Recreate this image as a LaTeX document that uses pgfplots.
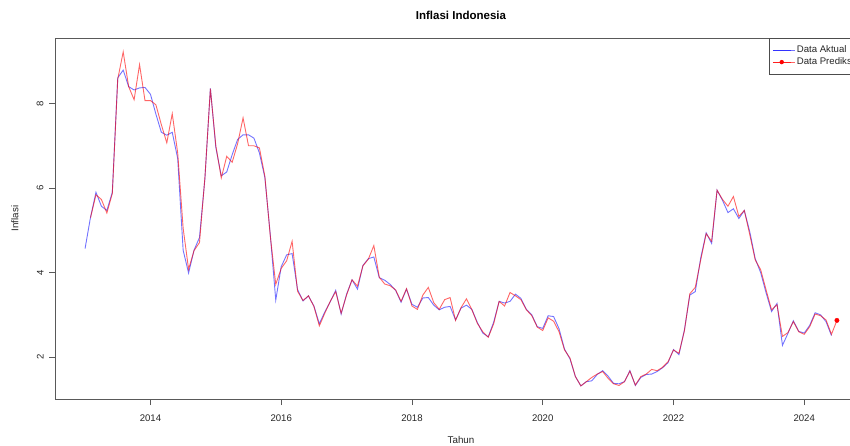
\documentclass[border=0pt]{standalone}
\usepackage{fontspec}
\setmainfont{Liberation Sans}
\usepackage{pgfplots}
\usepackage{pgfplotstable}
\pgfplotsset{compat=1.18}

% Data Aktual: month index t (0 = Jan 2013)
\pgfplotstableread{
t v
0 4.57
1 5.31
2 5.90
3 5.57
4 5.47
5 5.90
6 8.61
7 8.79
8 8.40
9 8.32
10 8.37
11 8.38
12 8.22
13 7.75
14 7.32
15 7.25
16 7.32
17 6.70
18 4.53
19 3.99
20 4.53
21 4.83
22 6.23
23 8.36
24 6.96
25 6.29
26 6.38
27 6.79
28 7.15
29 7.26
30 7.26
31 7.18
32 6.83
33 6.25
34 4.89
35 3.35
36 4.14
37 4.42
38 4.45
39 3.60
40 3.33
41 3.45
42 3.21
43 2.79
44 3.07
45 3.31
46 3.58
47 3.02
48 3.49
49 3.83
50 3.61
51 4.17
52 4.33
53 4.37
54 3.88
55 3.82
56 3.72
57 3.58
58 3.30
59 3.61
60 3.25
61 3.18
62 3.40
63 3.41
64 3.23
65 3.12
66 3.18
67 3.20
68 2.88
69 3.16
70 3.23
71 3.13
72 2.82
73 2.57
74 2.48
75 2.83
76 3.32
77 3.28
78 3.32
79 3.49
80 3.39
81 3.13
82 3.00
83 2.72
84 2.68
85 2.98
86 2.96
87 2.67
88 2.19
89 1.96
90 1.54
91 1.32
92 1.42
93 1.44
94 1.59
95 1.68
96 1.55
97 1.38
98 1.37
99 1.42
100 1.68
101 1.33
102 1.52
103 1.59
104 1.60
105 1.66
106 1.75
107 1.87
108 2.18
109 2.06
110 2.64
111 3.47
112 3.55
113 4.35
114 4.94
115 4.69
116 5.95
117 5.71
118 5.42
119 5.51
120 5.28
121 5.47
122 4.97
123 4.33
124 4.00
125 3.52
126 3.08
127 3.27
128 2.28
129 2.56
130 2.86
131 2.61
132 2.57
133 2.75
134 3.05
135 3.00
136 2.84
137 2.51
}\aktual

% Data Prediksi: month index t (1 = Feb 2013)
\pgfplotstableread{
t v
1 5.30
2 5.84
3 5.73
4 5.41
5 5.87
6 8.58
7 9.22
8 8.40
9 8.09
10 8.92
11 8.07
12 8.07
13 7.97
14 7.50
15 7.07
16 7.76
17 6.83
18 5.05
19 4.08
20 4.52
21 4.71
22 6.25
23 8.35
24 7.00
25 6.24
26 6.75
27 6.61
28 7.05
29 7.66
30 7.00
31 7.00
32 6.95
33 6.28
34 4.86
35 3.72
36 4.10
37 4.28
38 4.74
39 3.56
40 3.34
41 3.45
42 3.20
43 2.74
44 3.04
45 3.32
46 3.55
47 3.04
48 3.47
49 3.83
50 3.68
51 4.16
52 4.32
53 4.64
54 3.89
55 3.73
56 3.69
57 3.59
58 3.32
59 3.62
60 3.21
61 3.13
62 3.47
63 3.65
64 3.29
65 3.13
66 3.36
67 3.41
68 2.87
69 3.17
70 3.38
71 3.12
72 2.80
73 2.60
74 2.47
75 2.79
76 3.32
77 3.21
78 3.53
79 3.45
80 3.36
81 3.12
82 2.98
83 2.71
84 2.63
85 2.93
86 2.85
87 2.60
88 2.17
89 1.98
90 1.54
91 1.32
92 1.42
93 1.52
94 1.60
95 1.66
96 1.50
97 1.37
98 1.33
99 1.42
100 1.67
101 1.34
102 1.54
103 1.60
104 1.71
105 1.68
106 1.76
107 1.89
108 2.17
109 2.09
110 2.62
111 3.50
112 3.65
113 4.30
114 4.92
115 4.74
116 5.95
117 5.73
118 5.57
119 5.80
120 5.33
121 5.47
122 4.90
123 4.30
124 4.07
125 3.59
126 3.12
127 3.24
128 2.49
129 2.58
130 2.84
131 2.60
132 2.54
133 2.72
134 3.02
135 2.98
136 2.88
137 2.54
138 2.87
}\prediksi

\begin{document}
\begin{tikzpicture}[x=1pt,y=1pt]
\useasboundingbox (0,0) rectangle (850,445);
\begin{scope}
\clip (0,0) rectangle (850,445);
\begin{axis}[
  at={(55pt,46pt)}, anchor=south west,
  scale only axis, width=812pt, height=361pt,
  xmin=2012.54, xmax=2024.96, ymin=1.01, ymax=9.55,
  xtick={2014,2016,2018,2020,2022,2024}, ytick={2,4,6,8},
  tick pos=left, tick align=outside, major tick length=6pt,
  axis line style={black!65, line width=0.8pt},
  every tick/.style={black!65, line width=0.8pt},
  /pgf/number format/1000 sep={},
  /pgf/number format/assume math mode=true,
  ticklabel style={font=\fontsize{9.6}{11}\selectfont, text=black!85},
  xticklabel shift=6pt,
  yticklabel shift=2pt,
  yticklabel style={rotate=90, anchor=south},
  title={\textbf{Inflasi Indonesia}},
  title style={at={(axis description cs:0.5,1.0471)}, anchor=center, font=\fontsize{11.5}{13}\selectfont, text=black},
  xlabel={Tahun},
  xlabel style={at={(axis description cs:0.5,-0.1136)}, anchor=center, font=\fontsize{9.8}{11}\selectfont, text=black!85},
  ylabel={Inflasi},
  ylabel style={at={(axis description cs:-0.0493,0.5)}, anchor=center, font=\fontsize{9.8}{11}\selectfont, text=black!85},
  legend style={at={(axis description cs:0.8793,1)}, anchor=north west, draw=black!70, line width=0.6pt,
    font=\fontsize{9.6}{11}\selectfont, text=black!85,
    inner xsep=3pt, inner ysep=5.8pt, row sep=0pt, column sep=0pt,
    nodes={text height=6.9pt, text depth=1.5pt, inner ysep=1.8pt, inner xsep=1.7pt},
    cells={anchor=west}},
  legend image code/.code={\draw[draw=blue, line width=0.9pt, draw opacity=0.55] (0pt,0pt) -- (18pt,0pt); \path (0pt,0pt) -- (22pt,0pt);},
]
\addplot[blue, line width=0.9pt, draw opacity=0.55]
  table[x expr=2013+\thisrow{t}/12, y=v]{\aktual};
\addlegendentry{Data Aktual}
\addplot[red, line width=0.9pt, draw opacity=0.6,
  legend image code/.code={\draw[draw=red, line width=0.9pt, draw opacity=0.7] (0pt,0pt) -- (18pt,0pt); \fill[fill=red, draw=none] (9pt,0pt) circle (2.2pt); \path (0pt,0pt) -- (22pt,0pt);}]
  table[x expr=2013+\thisrow{t}/12, y=v]{\prediksi};
\addlegendentry{Data Prediksi}
\addplot[only marks, mark=*, mark size=2.2pt, red, forget plot]
  coordinates {(2024.5, 2.87)};
\end{axis}
\end{scope}
\end{tikzpicture}
\end{document}
